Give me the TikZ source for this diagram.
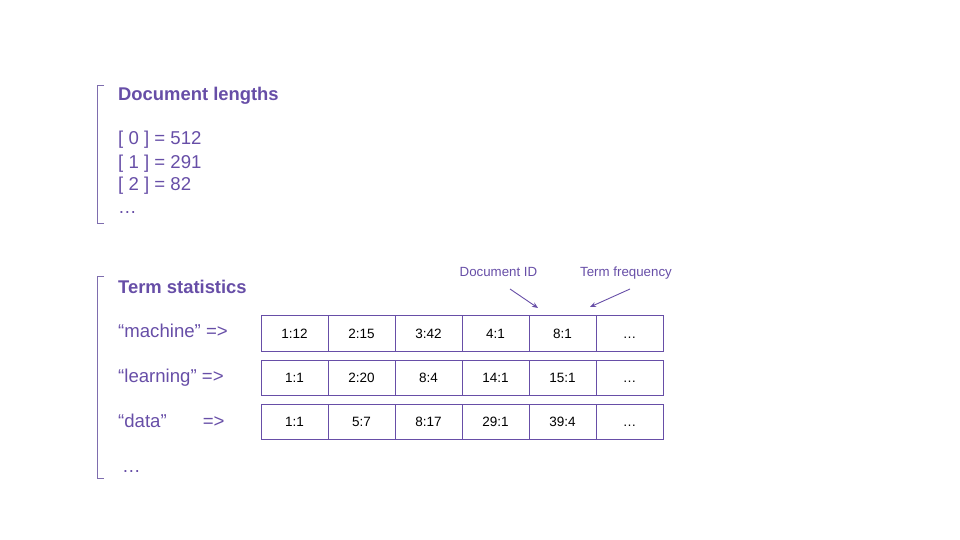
\documentclass[tikz,border=0pt]{standalone}
\usepackage{fontspec}
\setmainfont{Liberation Sans}
\usetikzlibrary{arrows.meta}
\definecolor{purp}{HTML}{674EA7}
\definecolor{brk}{HTML}{7E6DAE}
\tikzset{
  body/.style={anchor=base west, inner sep=0pt, text=purp, font=\fontsize{18.6}{22}\selectfont},
  title/.style={body, font=\fontsize{18.4}{22}\selectfont\bfseries},
  cell/.style={draw=purp, line width=1pt, fill=white, minimum width=67pt, minimum height=35.5pt, inner sep=0pt, text height=9.6pt, text depth=0pt, text=black, font=\fontsize{13.5}{16}\selectfont},
  lbl/.style={anchor=base, inner sep=0pt, text=purp, font=\fontsize{13.3}{16}\selectfont},
  bracket/.style={draw=brk, line width=0.9pt},
  pointer/.style={draw=purp, line width=0.9pt, -{Stealth[length=6pt,width=5pt]}}
}
\begin{document}
\begin{tikzpicture}[x=1pt,y=-1pt]
\useasboundingbox (0,0) rectangle (960,540);
% brackets
\draw[bracket] (104,85) -- (97,85) -- (97,223) -- (104,223);
\draw[bracket] (104,276) -- (97,276) -- (97,478) -- (104,478);
% document lengths
\node[title] (dl) at (118,101) {Document lengths};
\node[body] (l0) at (118,145) {[ 0 ] = 512};
\node[body] (l1) at (118,168) {[ 1 ] = 291};
\node[body] (l2) at (118,190) {[ 2 ] = 82};
\node[body] (l3) at (118,213) {…};
% term statistics
\node[title] (ts) at (118,293) {Term statistics};
\node[body] (t1) at (118,337) {“machine” =>};
\node[body] (t2) at (118,382) {“learning” =>};
\node[body] (t3) at (118,427) {“data”\hspace{36pt}=>};
\node[body] (t4) at (122,472) {…};
% cells
\foreach \r/\y/\a/\b/\c/\d/\e in {1/333.5/1:12/2:15/3:42/4:1/8:1, 2/378/1:1/2:20/8:4/14:1/15:1, 3/422/1:1/5:7/8:17/29:1/39:4}{
  \node[cell] (r\r c1) at (294.5,\y) {\a};
  \node[cell] (r\r c2) at (361.5,\y) {\b};
  \node[cell] (r\r c3) at (428.5,\y) {\c};
  \node[cell] (r\r c4) at (495.5,\y) {\d};
  \node[cell] (r\r c5) at (562.5,\y) {\e};
  \node[cell] (r\r c6) at (629.5,\y) {…};
}
% labels and pointers
\node[lbl] (docid) at (498.5,276) {Document ID};
\node[lbl] (tf) at (626,276) {Term frequency};
\coordinate (a1s) at (510,289);
\coordinate (a1e) at (538,308);
\coordinate (a2s) at (630,289);
\coordinate (a2e) at (590,307);
\draw[pointer] (a1s) -- (a1e);
\draw[pointer] (a2s) -- (a2e);
\end{tikzpicture}
\end{document}
